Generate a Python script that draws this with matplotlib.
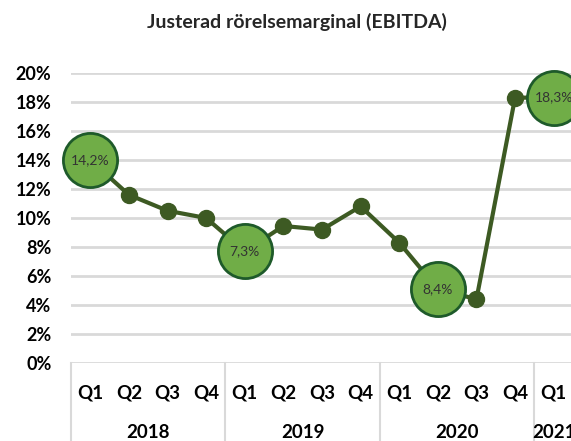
import numpy as np
import matplotlib.pyplot as plt
import matplotlib.transforms as mtransforms

plt.rcParams['font.family'] = ['Lato', 'DejaVu Sans']

# data
kvartal = ['Q1', 'Q2', 'Q3', 'Q4', 'Q1', 'Q2', 'Q3', 'Q4', 'Q1', 'Q2', 'Q3', 'Q4', 'Q1']
ar = ['2018', '2019', '2020', '2021']
ar_antal = [4, 4, 4, 1]
marginal = [14.0, 11.6, 10.5, 10.0, 7.7, 9.45, 9.2, 10.8, 8.3, 5.1, 4.4, 18.3, 18.3]
# bubblor med etikett (index, text)
bubbla_idx = [0, 4, 9, 12]
bubbla_text = ['14,2%', '7,3%', '8,4%', '18,3%']

linjefarg = '#3d5a23'
fyllning = '#70ad47'
kant = '#1e5a2a'
gridfarg = '#d9d9d9'

fig = plt.figure(figsize=(5.71, 4.41), dpi=100)
ax = fig.add_axes([71 / 571, 78 / 441, 502 / 571, 290 / 441])

x = np.arange(len(marginal))
ax.plot(x, marginal, color=linjefarg, lw=3, marker='o', ms=11.5, zorder=3, clip_on=False)

for i, t in zip(bubbla_idx, bubbla_text):
    ax.plot(x[i], marginal[i], marker='o', ms=39, mfc=fyllning, mec=kant, mew=2,
            zorder=4, clip_on=False)
    ax.text(x[i], marginal[i], t, ha='center', va='center', fontsize=10,
            color='#333333', zorder=5)

ax.set_xlim(-0.5, len(marginal) - 0.5)
ax.set_ylim(0, 20)
ax.set_yticks(np.arange(0, 21, 2))
ax.set_yticklabels([f'{v}%' for v in range(0, 21, 2)], fontsize=13, fontweight='bold')
ax.tick_params(axis='y', length=0, pad=14)
ax.set_xticks([])
ax.grid(axis='y', color=gridfarg, lw=2)
ax.set_axisbelow(True)
for s in ax.spines.values():
    s.set_visible(False)

# kategoriaxel med kvartal och år
trans = mtransforms.blended_transform_factory(ax.transData, ax.transAxes)
for i, q in enumerate(kvartal):
    ax.text(i, -0.103, q, transform=trans, ha='center', va='center',
            fontsize=13.5, fontweight='bold', clip_on=False)
start = 0
for a, n in zip(ar, ar_antal):
    mitt = start + (n - 1) / 2
    ax.text(mitt, -0.238, a, transform=trans, ha='center', va='center',
            fontsize=13.5, fontweight='bold', clip_on=False)
    ax.plot([start - 0.5, start - 0.5], [0, -0.27], transform=trans, color=gridfarg,
            lw=1.5, clip_on=False)
    start += n

fig.text(297 / 571, 1 - 22 / 441, 'Justerad rörelsemarginal (EBITDA)', ha='center', va='center',
         fontsize=14, fontweight='bold', color='#262626')

fig.savefig('out.png', dpi=100)
